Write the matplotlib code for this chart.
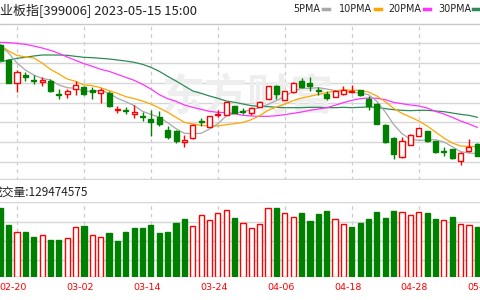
import matplotlib
matplotlib.use("Agg")
import matplotlib.pyplot as plt
from matplotlib.lines import Line2D
import matplotlib.transforms as mtransforms

plt.rcParams['font.family'] = ['Noto Sans CJK SC', 'DejaVu Sans']

# 日K数据
dates = ["02-20", "03-02", "03-14", "03-24", "04-06", "04-18", "04-28", "05-15"]
date_idx = [2, 10, 18, 26, 34, 42, 50, 58]

opens = [2565, 2520, 2450, 2474, 2459, 2453, 2457, 2417, 2417, 2432, 2438, 2429, 2420, 2420, 2369,
         2370, 2358, 2351, 2342, 2349, 2309, 2306, 2274, 2285, 2336, 2319, 2355, 2356, 2382, 2367,
         2360, 2380, 2404, 2443, 2400, 2423, 2458, 2450, 2429, 2418, 2409, 2418, 2424, 2429, 2403,
         2388, 2325, 2286, 2228, 2265, 2292, 2306, 2276, 2246, 2252, 2218, 2247, 2268]
closes = [2520, 2451, 2485, 2470, 2456, 2460, 2427, 2414, 2427, 2445, 2418, 2424, 2430, 2381, 2372,
          2367, 2364, 2348, 2333, 2328, 2288, 2276, 2279, 2325, 2333, 2352, 2358, 2393, 2360, 2364,
          2375, 2394, 2441, 2418, 2426, 2451, 2440, 2441, 2427, 2406, 2427, 2430, 2426, 2415, 2381,
          2328, 2273, 2238, 2276, 2295, 2315, 2276, 2243, 2243, 2225, 2240, 2258, 2232]
highs = [2568, 2523, 2490, 2485, 2475, 2468, 2462, 2432, 2433, 2456, 2443, 2438, 2435, 2427, 2382,
         2378, 2384, 2364, 2370, 2367, 2322, 2310, 2295, 2327, 2346, 2353, 2369, 2394, 2383, 2375,
         2378, 2396, 2443, 2445, 2428, 2453, 2466, 2468, 2438, 2428, 2429, 2443, 2444, 2430, 2411,
         2391, 2328, 2288, 2289, 2297, 2316, 2306, 2276, 2258, 2253, 2243, 2282, 2270]
lows = [2520, 2451, 2424, 2457, 2448, 2442, 2424, 2403, 2406, 2414, 2414, 2402, 2391, 2379, 2360,
        2358, 2345, 2337, 2292, 2322, 2283, 2270, 2260, 2283, 2323, 2318, 2348, 2355, 2360, 2358,
        2356, 2378, 2402, 2403, 2399, 2422, 2436, 2428, 2416, 2400, 2408, 2416, 2422, 2413, 2370,
        2327, 2271, 2222, 2226, 2265, 2291, 2275, 2242, 2231, 2223, 2204, 2244, 2231]

ma5 = [2562, 2541, 2511, 2490, 2475, 2465, 2460, 2445, 2437, 2435, 2426, 2426, 2429, 2420, 2405,
       2395, 2383, 2366, 2357, 2348, 2332, 2314, 2300, 2299, 2300, 2313, 2329, 2352, 2359, 2366,
       2370, 2377, 2387, 2398, 2411, 2426, 2435, 2435, 2437, 2433, 2428, 2426, 2423, 2421, 2416,
       2396, 2364, 2327, 2299, 2282, 2279, 2280, 2281, 2274, 2260, 2245, 2241, 2239]
ma10 = [2564, 2547, 2534, 2529, 2526, 2511, 2492, 2478, 2463, 2456, 2445, 2443, 2437, 2428, 2420,
        2410, 2404, 2397, 2388, 2376, 2363, 2348, 2333, 2328, 2324, 2322, 2322, 2326, 2329, 2333,
        2341, 2353, 2369, 2379, 2388, 2398, 2406, 2411, 2417, 2422, 2427, 2431, 2429, 2429, 2424,
        2412, 2395, 2375, 2360, 2349, 2337, 2322, 2304, 2286, 2271, 2262, 2261, 2260]
ma20 = [2573, 2572, 2570, 2567, 2562, 2556, 2549, 2540, 2529, 2519, 2509, 2501, 2492, 2486, 2477,
        2468, 2459, 2447, 2433, 2416, 2404, 2396, 2385, 2378, 2372, 2366, 2363, 2362, 2359, 2354,
        2352, 2351, 2351, 2353, 2356, 2360, 2364, 2369, 2373, 2377, 2384, 2392, 2399, 2404, 2406,
        2405, 2401, 2393, 2389, 2385, 2382, 2376, 2366, 2358, 2348, 2337, 2328, 2318]
ma30 = [2514, 2520, 2525, 2528, 2532, 2535, 2535, 2535, 2534, 2531, 2528, 2527, 2525, 2523, 2520,
        2517, 2513, 2507, 2498, 2486, 2471, 2457, 2442, 2427, 2420, 2412, 2405, 2397, 2393, 2388,
        2383, 2381, 2380, 2378, 2377, 2377, 2377, 2378, 2378, 2377, 2377, 2378, 2377, 2378, 2379,
        2378, 2374, 2371, 2369, 2368, 2369, 2369, 2367, 2365, 2361, 2357, 2354, 2348]

# 成交量 (百万股), 1 = 红
vol = [171.8, 130, 113.3, 111.8, 100.8, 105, 92.5, 92.5, 96.8, 124.3,
       127.5, 105, 99.3, 109.3, 90.8, 113.3, 121.8, 121.8, 130, 109.3,
       111.8, 135.8, 144.3, 127.5, 155, 142.5, 159.3, 167.5, 146.8, 135.8,
       121.8, 132.5, 173.3, 173.3, 159.3, 150.8, 159.3, 140.8, 157.5, 165.8,
       145.8, 132.5, 124.3, 135.8, 144.3, 162.5, 146.8, 165.8, 161.8, 154.3,
       161.8, 159.3, 145.8, 143.3, 150.8, 132.5, 130, 124.3]
vol_up = [0, 0, 1, 0, 0, 1, 0, 0, 1, 1, 0, 1, 1, 0, 0, 0, 0, 0, 0, 0,
          0, 0, 0, 1, 1, 1, 1, 1, 0, 1, 1, 1, 1, 0, 1, 1, 0, 0, 0, 0,
          1, 1, 0, 0, 0, 0, 0, 0, 1, 1, 1, 0, 0, 1, 0, 1, 1, 0]

RED = '#ff0000'
GREEN = '#008000'
GRID = '#d6d6d6'

fig = plt.figure(figsize=(4.8, 3.0), dpi=100)
ax = fig.add_axes([0, 1 - 179.5 / 300, 1, 156 / 300])
axv = fig.add_axes([0, 1 - 277 / 300, 1, 75 / 300])

xlim = (-0.03, 57.32)
for a in (ax, axv):
    a.set_xlim(*xlim)
    a.set_xticks([])
    a.set_yticks([])
    for s in a.spines.values():
        s.set_visible(False)
    for d in date_idx:
        a.axvline(d, color='#cccccc', lw=0.9, ls=(0, (3, 3)), zorder=0)

ax.set_ylim(2161.5, 2629.5)
for p in [2629.5, 2571, 2511, 2451, 2392, 2334, 2274, 2214, 2161.5]:
    ax.axhline(p, color=GRID, lw=1.0, zorder=0)

axv.set_ylim(0, 187.5)
for v in [42.5, 90, 138, 187.5]:
    axv.axhline(v, color=GRID, lw=1.0, zorder=0)

# 水印
ax.text(29.6, 2409, "东方财富", fontsize=31, color='#eeeeee', ha='center', va='center',
        zorder=0.5, fontweight='bold')

# 均线
ax.plot(range(len(ma30)), ma30, color='#2e8b57', lw=0.9, zorder=2)
ax.plot(range(len(ma20)), ma20, color='#ff33ff', lw=0.9, zorder=2)
ax.plot(range(len(ma10)), ma10, color='#ffa500', lw=0.9, zorder=2)
ax.plot(range(len(ma5)), ma5, color='#a8a8a8', lw=0.9, zorder=2)

# K线
w = 0.6
for i in range(len(opens)):
    o, c, h, l = opens[i], closes[i], highs[i], lows[i]
    up = c > o
    col = RED if up else GREEN
    ax.vlines(i, l, h, color=col, lw=1.0, zorder=3)
    bottom = min(o, c)
    height = max(abs(c - o), 1.2)
    ax.bar(i, height, w, bottom=bottom, facecolor='white' if up else col,
           edgecolor=col, linewidth=1.0, zorder=4)

# 成交量
for i in range(len(vol)):
    if vol_up[i]:
        axv.bar(i, vol[i], 0.62, facecolor='white', edgecolor=RED, linewidth=1.0, zorder=3)
    else:
        axv.bar(i, vol[i], 0.62, facecolor=GREEN, edgecolor=GREEN, linewidth=1.0, zorder=3)

# 日期
trans = mtransforms.blended_transform_factory(axv.transData, fig.transFigure)
for d, lab in zip(date_idx, dates):
    axv.text(d - 0.5, 1 - 288 / 300, lab, transform=trans, ha='center', va='center',
             fontsize=6.8, color=RED, family='DejaVu Sans', clip_on=False)

# 标题和图例
fig.text(-13 / 480, 1 - 11 / 300, "创业板指[399006] 2023-05-15 15:00", fontsize=9.4,
         color='#222222', ha='left', va='center')
legend = [("5PMA", 293, 323, '#a8a8a8'), ("10PMA", 339, 375, '#ffa500'),
          ("20PMA", 388, 424, '#ff33ff'), ("30PMA", 438, 473, '#2e8b57')]
for lab, x0, xd, col in legend:
    fig.text(x0 / 480, 1 - 9.5 / 300, lab, fontsize=6.9, color='#222222',
             ha='left', va='center', family='DejaVu Sans')
    fig.add_artist(Line2D([xd / 480, (xd + 6) / 480], [1 - 9 / 300] * 2,
                          transform=fig.transFigure, color=col, lw=2.5))

fig.add_artist(Line2D([0, 1], [1 - 23.5 / 300] * 2, transform=fig.transFigure,
                      color='#c8c8c8', lw=1.0))
fig.text(-9 / 480, 1 - 192.7 / 300, "成交量:129474575", fontsize=8.5,
         color='#222222', ha='left', va='center')

fig.savefig("out.png", dpi=100)
